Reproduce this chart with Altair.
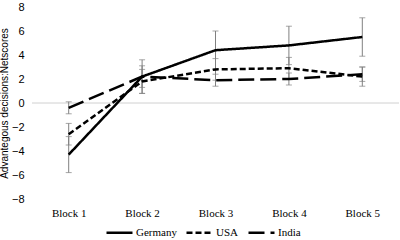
import altair as alt
import pandas as pd

blocks = ["Block 1", "Block 2", "Block 3", "Block 4", "Block 5"]
countries = ["Germany", "USA", "India"]
germany = [-4.3, 2.2, 4.4, 4.8, 5.5]
germany_err = [1.5, 1.4, 1.6, 1.6, 1.6]
usa = [-2.6, 1.8, 2.8, 2.9, 2.2]
usa_err = [0.9, 1.0, 0.9, 0.9, 0.8]
india = [-0.4, 2.2, 1.9, 2.0, 2.4]
india_err = [0.5, 0.9, 0.5, 0.5, 0.6]
y_ticks = [-8, -6, -4, -2, 0, 2, 4, 6, 8]

rows = []
for c, vals, errs in [("Germany", germany, germany_err), ("USA", usa, usa_err), ("India", india, india_err)]:
    for b, v, e in zip(blocks, vals, errs):
        rows.append({"block": b, "country": c, "value": v, "lo": v - e, "hi": v + e})
df = pd.DataFrame(rows)
zero = pd.DataFrame({"y": [0]})

x = alt.X("block:N", sort=blocks, scale=alt.Scale(type="point", padding=0.5),
          axis=alt.Axis(title=None, labelAngle=0, domain=False, ticks=False, grid=False,
                        labelFont="Liberation Serif", labelFontSize=11, labelColor="#000",
                        labelPadding=8))
yscale = alt.Scale(domain=[-8, 8], nice=False)
yaxis = alt.Axis(title="Advantegous decisions:Netscores", values=y_ticks,
                 domain=False, ticks=False, grid=False, labelPadding=8,
                 labelOverlap=False, labelFlush=False,
                 labelFont="Liberation Sans", labelFontSize=11, labelColor="#000",
                 titleFont="Liberation Sans", titleFontSize=10, titleFontWeight="normal",
                 titleColor="#000", titlePadding=2)

rule0 = alt.Chart(zero).mark_rule(color="#d0d0d0", strokeWidth=1).encode(
    y=alt.Y("y:Q", scale=yscale, axis=yaxis))

err = alt.Chart(df).mark_rule(color="#808080", strokeWidth=1).encode(
    x=x, y=alt.Y("lo:Q", scale=yscale, axis=yaxis), y2="hi:Q")
cap_lo = alt.Chart(df).mark_tick(color="#808080", thickness=1, size=6).encode(
    x=x, y=alt.Y("lo:Q", scale=yscale, axis=yaxis))
cap_hi = alt.Chart(df).mark_tick(color="#808080", thickness=1, size=6).encode(
    x=x, y=alt.Y("hi:Q", scale=yscale, axis=yaxis))

lines = alt.Chart(df).mark_line(color="#000", strokeWidth=2.5).encode(
    x=x,
    y=alt.Y("value:Q", scale=yscale, axis=yaxis),
    strokeDash=alt.StrokeDash("country:N", sort=countries,
                              scale=alt.Scale(domain=countries, range=[[1, 0], [6, 3], [16, 6]]),
                              legend=alt.Legend(title=None, orient="none", direction="horizontal",
                                                legendX=73, legendY=211,
                                                symbolType="stroke", symbolSize=676,
                                                symbolStrokeWidth=2.5, symbolStrokeColor="#000",
                                                labelFont="Liberation Serif", labelFontSize=11,
                                                labelColor="#000", labelOffset=2,
                                                columnPadding=4)),
    detail="country:N")

chart = alt.layer(rule0, err, cap_lo, cap_hi, lines).properties(
    width=367, height=192,
    autosize=alt.AutoSizeParams(type="none"),
    padding={"left": 32, "top": 7, "right": 1, "bottom": 41},
    background="white",
).configure_view(stroke=None)

chart.save("out.html", embed_options={"renderer": "svg", "actions": False})
